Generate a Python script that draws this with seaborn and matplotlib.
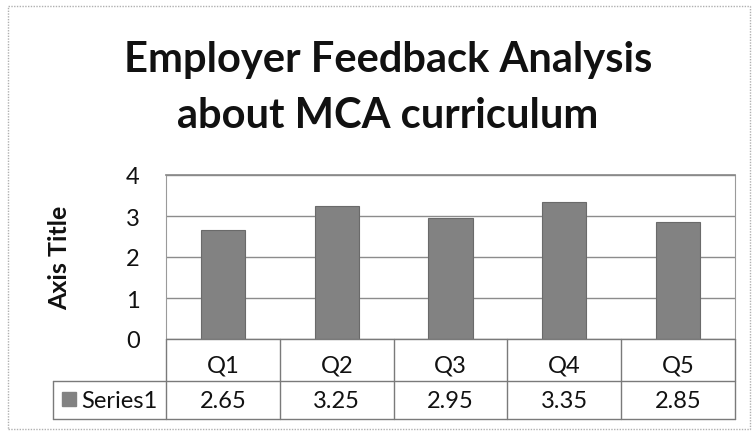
import matplotlib
matplotlib.use("Agg")
import matplotlib.pyplot as plt
import seaborn as sns
import pandas as pd
from matplotlib.lines import Line2D
from matplotlib.patches import Rectangle

categories = ["Q1", "Q2", "Q3", "Q4", "Q5"]
values = [2.65, 3.25, 2.95, 3.35, 2.85]
value_labels = ["2.65", "3.25", "2.95", "3.35", "2.85"]
series_name = "Series1"
title_lines = ["Employer Feedback Analysis", "about MCA curriculum"]
y_title = "Axis Title"
y_ticks = [0, 1, 2, 3, 4]

sns.set_theme(style="white")
plt.rcParams['font.family'] = ['Lato', 'DejaVu Sans']

W, H = 752, 435
fig = plt.figure(figsize=(W / 100, H / 100), dpi=100)

def fx(px):
    return px / W

def fy(py):
    return 1 - py / H

ax_l, ax_r, ax_t, ax_b = 166, 735, 176, 340
ax = fig.add_axes([fx(ax_l), fy(ax_b), fx(ax_r - ax_l), (ax_b - ax_t) / H])

df = pd.DataFrame({"cat": categories, "val": values})
sns.barplot(data=df, x="cat", y="val", color="#828282", saturation=1,
            width=0.39, ax=ax, edgecolor="#6a6a6a", linewidth=0.8, zorder=3)
ax.set_ylim(0, 4)
ax.set_xlim(-0.5, len(categories) - 0.5)
ax.set_yticks(y_ticks)
ax.set_yticklabels([str(t) for t in y_ticks], fontsize=17, color="#111111")
ax.tick_params(axis="y", length=0, pad=19)
ax.set_xticks([])
ax.set_xlabel("")
ax.set_ylabel(y_title, fontsize=18, fontweight="bold", color="#111111")
ax.yaxis.set_label_coords((71 - ax_l) / (ax_r - ax_l), 0.5)
ax.yaxis.grid(True, color="#8c8c8c", linewidth=1.0, zorder=0)
ax.set_axisbelow(True)
ax.spines["bottom"].set_visible(False)
ax.spines["top"].set_color("#8a8a8a")
for s in ["left", "right"]:
    ax.spines[s].set_color("#9a9a9a")
    ax.spines[s].set_linewidth(0.8)

fig.text(fx(388), fy(72), title_lines[0], ha="center", va="baseline",
         fontsize=30, fontweight="bold", color="#111111")
fig.text(fx(388), fy(128), title_lines[1], ha="center", va="baseline",
         fontsize=30, fontweight="bold", color="#111111")

# data table below the axis
row1_top, row1_bot, row2_bot = 340, 382, 420
table_left = 53
lc = "#7a7a7a"
n = len(categories)
cw = (ax_r - ax_l) / n

def hline(y, x0, x1):
    fig.add_artist(Line2D([fx(x0), fx(x1)], [fy(y), fy(y)], color=lc, lw=1.0))

def vline(x, y0, y1):
    fig.add_artist(Line2D([fx(x), fx(x)], [fy(y0), fy(y1)], color=lc, lw=1.0))

hline(row1_top, ax_l, ax_r)
hline(row1_bot, table_left, ax_r)
hline(row2_bot, table_left, ax_r)
vline(table_left, row1_bot, row2_bot)
for i in range(n + 1):
    vline(ax_l + i * cw, row1_top, row2_bot)

for i, (c, v) in enumerate(zip(categories, value_labels)):
    cx = fx(ax_l + (i + 0.5) * cw)
    fig.text(cx, fy(373), c, ha="center", va="baseline",
             fontsize=17, color="#111111")
    fig.text(cx, fy(408), v, ha="center", va="baseline",
             fontsize=17, color="#111111")

fig.add_artist(Rectangle((fx(62), fy(407)), fx(14), 14 / H, color="#828282"))
fig.text(fx(81), fy(408), series_name, ha="left", va="baseline",
         fontsize=17, color="#111111")

# outer chart border
fig.add_artist(Rectangle((fx(8), fy(430)), fx(742), (430 - 7) / H, fill=False,
                         edgecolor="#b0b0b0", lw=1.0, linestyle=(0, (1, 1))))

fig.savefig("out.png", dpi=100)
